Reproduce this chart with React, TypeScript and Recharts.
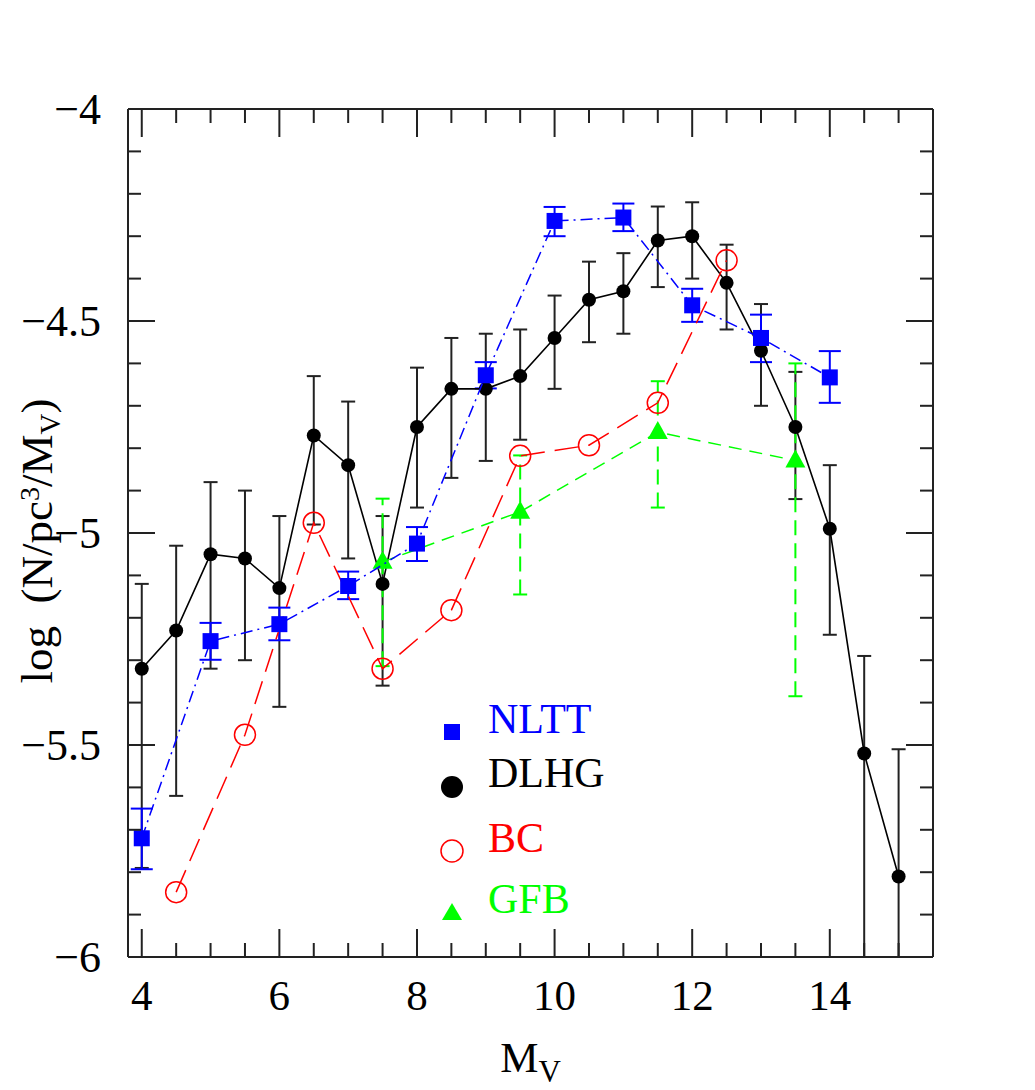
import React from 'react';
import { ComposedChart, Scatter, XAxis, YAxis, ErrorBar } from 'recharts';

// luminosity function: log(N/pc^3/Mv) vs Mv, four samples

const DLHG_MV = [4, 4.5, 5, 5.5, 6, 6.5, 7, 7.5, 8, 8.5, 9, 9.5, 10, 10.5, 11, 11.5, 12, 12.5, 13, 13.5, 14, 14.5, 15];
const DLHG_LOG = [-5.32, -5.23, -5.05, -5.06, -5.13, -4.77, -4.84, -5.12, -4.75, -4.66, -4.66, -4.63, -4.54, -4.45, -4.43, -4.31, -4.30, -4.41, -4.57, -4.75, -4.99, -5.52, -5.81];
const DLHG_HI = [-5.12, -5.03, -4.88, -4.90, -4.96, -4.63, -4.69, -4.96, -4.61, -4.54, -4.53, -4.52, -4.44, -4.36, -4.34, -4.23, -4.22, -4.32, -4.46, -4.62, -4.84, -5.29, -5.51];
// the last two bars run off the bottom of the frame
const DLHG_LO = [-5.79, -5.62, -5.32, -5.30, -5.41, -4.98, -5.06, -5.36, -4.94, -4.87, -4.83, -4.78, -4.66, -4.55, -4.53, -4.42, -4.40, -4.52, -4.70, -4.92, -5.24, -6.0, -6.0];

const NLTT_MV = [4, 5, 6, 7, 8, 9, 10, 11, 12, 13, 14];
const NLTT_LOG = [-5.72, -5.255, -5.215, -5.125, -5.025, -4.628, -4.264, -4.256, -4.463, -4.54, -4.633];
const NLTT_HI = [-5.65, -5.212, -5.176, -5.091, -4.986, -4.597, -4.231, -4.223, -4.424, -4.485, -4.571];
const NLTT_LO = [-5.793, -5.299, -5.253, -5.156, -5.066, -4.659, -4.30, -4.288, -4.502, -4.597, -4.693];

const BC_MV = [4.5, 5.5, 6.5, 7.5, 8.5, 9.5, 10.5, 11.5, 12.5];
const BC_LOG = [-5.847, -5.476, -4.976, -5.32, -5.182, -4.818, -4.793, -4.693, -4.357];

const GFB_MV = [7.5, 9.5, 11.5, 13.5];
const GFB_LOG = [-5.068, -4.95, -4.762, -4.829];
const GFB_HI = [-4.919, -4.817, -4.642, -4.60];
const GFB_LO = [-5.314, -5.145, -4.94, -5.385];

const X_TICKS = [4, 4.5, 5, 5.5, 6, 6.5, 7, 7.5, 8, 8.5, 9, 9.5, 10, 10.5, 11, 11.5, 12, 12.5, 13, 13.5, 14, 14.5, 15, 15.5];
const Y_TICKS = [-6, -5.9, -5.8, -5.7, -5.6, -5.5, -5.4, -5.3, -5.2, -5.1, -5, -4.9, -4.8, -4.7, -4.6, -4.5, -4.4, -4.3, -4.2, -4.1, -4];

const FONT = "'Liberation Serif', 'Times New Roman', serif";
const AXIS = '#222';

const rows = (mv: number[], log: number[], hi?: number[], lo?: number[]) =>
  mv.map((x, i) => ({
    x,
    y: log[i],
    err: hi && lo ? [log[i] - lo[i], hi[i] - log[i]] : [0, 0],
  }));

const dlhgData = rows(DLHG_MV, DLHG_LOG, DLHG_HI, DLHG_LO);
const nlttData = rows(NLTT_MV, NLTT_LOG, NLTT_HI, NLTT_LO);
const bcData = rows(BC_MV, BC_LOG);
const gfbData = rows(GFB_MV, GFB_LOG, GFB_HI, GFB_LO);

const fmt = (v: number) => (v < 0 ? '\u2212' + Math.abs(v) : String(v));
const isHalf = (v: number) => Math.abs(v * 2 - Math.round(v * 2)) < 1e-6;
const txt = { fontFamily: FONT };

const BottomTick = (p: any) => {
  const v = p.payload.value;
  const major = v % 2 === 0;
  return (
    <g>
      <line x1={p.x} y1={p.y} x2={p.x} y2={p.y - (major ? 28 : 14)} stroke={AXIS} strokeWidth={2} />
      {major && (
        <text x={p.x} y={p.y + 53} textAnchor="middle" fontSize={43} style={txt} fill="#000">
          {v}
        </text>
      )}
    </g>
  );
};

const TopTick = (p: any) => {
  const major = p.payload.value % 2 === 0;
  return <line x1={p.x} y1={p.y} x2={p.x} y2={p.y + (major ? 28 : 14)} stroke={AXIS} strokeWidth={2} />;
};

const LeftTick = (p: any) => {
  const v = p.payload.value;
  const major = isHalf(v);
  return (
    <g>
      <line x1={p.x} y1={p.y} x2={p.x + (major ? 27 : 13)} y2={p.y} stroke={AXIS} strokeWidth={2} />
      {major && (
        <text x={p.x - 27} y={p.y} dy="0.34em" textAnchor="end" fontSize={44} style={txt} fill="#000">
          {fmt(Math.round(v * 10) / 10)}
        </text>
      )}
    </g>
  );
};

const RightTick = (p: any) => {
  const major = isHalf(p.payload.value);
  return <line x1={p.x} y1={p.y} x2={p.x - (major ? 27 : 13)} y2={p.y} stroke={AXIS} strokeWidth={2} />;
};

const XTitle = (p: any) => {
  const vb = p.viewBox;
  const cx = vb.x + vb.width / 2;
  return (
    <text x={cx} y={vb.y + 115} textAnchor="middle" fontSize={43} style={txt} fill="#000">
      M
      <tspan fontSize={31} dy={10}>V</tspan>
    </text>
  );
};

const YTitle = (p: any) => {
  const vb = p.viewBox;
  const cy = vb.y + vb.height / 2 + 8;
  const x = 44;
  return (
    <text
      x={x}
      y={cy}
      transform={`rotate(-90 ${x} ${cy})`}
      textAnchor="middle"
      fontSize={45}
      style={txt}
      fill="#000"
    >
      log{'\u00a0\u00a0'}(N/pc
      <tspan fontSize={28} dy={-13}>3</tspan>
      <tspan dy={13}>/M</tspan>
      <tspan fontSize={29} dy={8}>V</tspan>
      <tspan dy={-8}>)</tspan>
    </text>
  );
};

const Square = (p: any) => <rect x={p.cx - 8} y={p.cy - 8} width={16} height={16} fill="#0000ff" />;
const Dot = (p: any) => <circle cx={p.cx} cy={p.cy} r={7} fill="#000" />;
const OpenCircle = (p: any) => <circle cx={p.cx} cy={p.cy} r={10.5} fill="none" stroke="#ff0000" strokeWidth={1.5} />;
const Triangle = (p: any) => (
  <polygon points={`${p.cx - 10},${p.cy + 7} ${p.cx + 10},${p.cy + 7} ${p.cx},${p.cy - 11}`} fill="#00ff00" />
);
const Nothing = () => <g />;

const W = 1019;
const H = 1082;

function Legend() {
  const tx = 480;
  const t = { fontSize: 42, style: txt };
  return (
    <svg width={W} height={H} style={{ position: 'absolute', left: 0, top: 0, pointerEvents: 'none' }}>
      <rect x={436} y={716} width={16} height={16} fill="#0000ff" />
      <text x={tx} y={725} fill="#0000ff" {...t}>NLTT</text>
      <circle cx={444} cy={779} r={11} fill="#000" />
      <text x={tx} y={779} fill="#000" {...t}>DLHG</text>
      <circle cx={444} cy={843} r={11} fill="none" stroke="#ff0000" strokeWidth={1.5} />
      <text x={tx} y={844} fill="#ff0000" {...t}>BC</text>
      <polygon points="434,912 454,912 444,895" fill="#00ff00" />
      <text x={tx} y={905} fill="#00ff00" {...t}>GFB</text>
    </svg>
  );
}

export default function App() {
  return (
    <div style={{ position: 'relative', width: W, height: H, marginBottom: -8 }}>
      <ComposedChart width={W} height={H} margin={{ top: 100, right: 93, bottom: 0, left: 0 }}>
        <XAxis
          xAxisId="b"
          type="number"
          dataKey="x"
          domain={[3.8, 15.5]}
          allowDataOverflow
          ticks={X_TICKS}
          interval={0}
          tickSize={0}
          tickMargin={0}
          tickLine={false}
          tick={BottomTick}
          axisLine={{ stroke: AXIS, strokeWidth: 2 }}
          height={133}
          label={XTitle}
        />
        <XAxis
          xAxisId="t"
          orientation="top"
          type="number"
          dataKey="x"
          domain={[3.8, 15.5]}
          allowDataOverflow
          ticks={X_TICKS}
          interval={0}
          tickSize={0}
          tickMargin={0}
          tickLine={false}
          tick={TopTick}
          axisLine={{ stroke: AXIS, strokeWidth: 2 }}
          height={1}
        />
        <YAxis
          yAxisId="l"
          type="number"
          dataKey="y"
          domain={[-6, -4]}
          allowDataOverflow
          ticks={Y_TICKS}
          interval={0}
          tickSize={0}
          tickMargin={0}
          tickLine={false}
          tick={LeftTick}
          axisLine={{ stroke: AXIS, strokeWidth: 2 }}
          width={120}
          label={YTitle}
        />
        <YAxis
          yAxisId="r"
          orientation="right"
          type="number"
          dataKey="y"
          domain={[-6, -4]}
          allowDataOverflow
          ticks={Y_TICKS}
          interval={0}
          tickSize={0}
          tickMargin={0}
          tickLine={false}
          tick={RightTick}
          axisLine={{ stroke: AXIS, strokeWidth: 2 }}
          width={1}
        />

        {/* invisible series tied to the mirrored top/right axes */}
        <Scatter xAxisId="t" yAxisId="r" data={bcData} dataKey="y" shape={Nothing} isAnimationActive={false} />

        <Scatter
          xAxisId="b"
          yAxisId="l"
          data={dlhgData}
          dataKey="y"
          shape={Dot}
          line={{ stroke: '#000', strokeWidth: 1.6 }}
          lineType="joint"
          isAnimationActive={false}
        >
          <ErrorBar dataKey="err" direction="y" width={7} stroke={AXIS} strokeWidth={2} isAnimationActive={false} />
        </Scatter>
        <Scatter
          xAxisId="b"
          yAxisId="l"
          data={bcData}
          dataKey="y"
          shape={OpenCircle}
          line={{ stroke: '#ff0000', strokeWidth: 1.5, strokeDasharray: '24 10' }}
          lineType="joint"
          isAnimationActive={false}
        />
        <Scatter
          xAxisId="b"
          yAxisId="l"
          data={gfbData}
          dataKey="y"
          shape={Triangle}
          line={{ stroke: '#00ff00', strokeWidth: 1.5, strokeDasharray: '13 8' }}
          lineType="joint"
          isAnimationActive={false}
        >
          <ErrorBar
            dataKey="err"
            direction="y"
            width={7}
            stroke="#00ff00"
            strokeWidth={2}
            strokeDasharray="15 8"
            isAnimationActive={false}
          />
        </Scatter>
        <Scatter
          xAxisId="b"
          yAxisId="l"
          data={nlttData}
          dataKey="y"
          shape={Square}
          line={{ stroke: '#0000ff', strokeWidth: 1.5, strokeDasharray: '12 5 2 5' }}
          lineType="joint"
          isAnimationActive={false}
        >
          <ErrorBar dataKey="err" direction="y" width={11} stroke="#0000ff" strokeWidth={2} isAnimationActive={false} />
        </Scatter>
      </ComposedChart>
      <Legend />
    </div>
  );
}
